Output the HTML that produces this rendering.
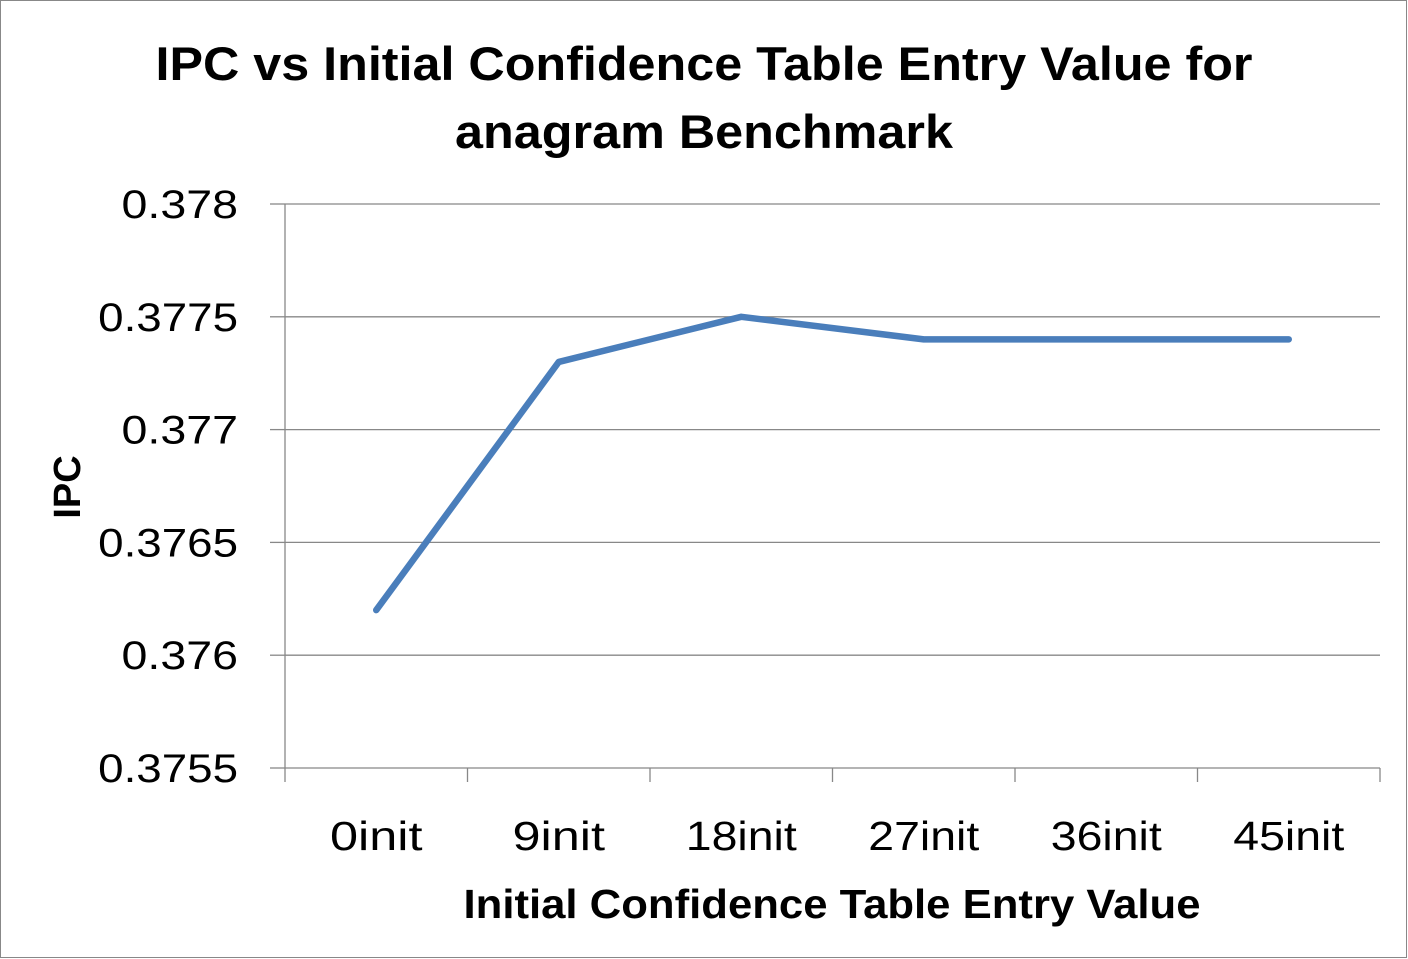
<!DOCTYPE html>
<html><head><meta charset="utf-8"><style>
html,body{margin:0;padding:0;background:#fff}
svg{display:block;font-family:"Liberation Sans",sans-serif}
</style></head><body>
<svg width="1408" height="959">
<rect x="0.5" y="0.5" width="1406" height="957" fill="#fff" stroke="#888"/>
<text x="704" y="80" text-anchor="middle" font-size="47" font-weight="bold" textLength="1097" lengthAdjust="spacingAndGlyphs">IPC vs Initial Confidence Table Entry Value for</text>
<text x="704" y="148" text-anchor="middle" font-size="47" font-weight="bold" textLength="498" lengthAdjust="spacingAndGlyphs">anagram Benchmark</text>
<g id="grid"></g><g id="axes"></g><g id="marks"></g>
<text transform="translate(80,487) rotate(-90)" text-anchor="middle" font-size="38" font-weight="bold">IPC</text>
<text x="832" y="918" text-anchor="middle" font-size="41" font-weight="bold" textLength="737" lengthAdjust="spacingAndGlyphs">Initial Confidence Table Entry Value</text>
</svg>
<script>
const categories=["0init","9init","18init","27init","36init","45init"];
const ipcValues=[0.3762,0.3773,0.3775,0.3774,0.3774,0.3774];
const yTicks=[0.3755,0.376,0.3765,0.377,0.3775,0.378];
const yTickLabels=["0.3755","0.376","0.3765","0.377","0.3775","0.378"];
const NS="http://www.w3.org/2000/svg";
const L=285,R=1380,T=204,B=768,yMin=0.3755,yMax=0.378;
const yS=v=>B-(v-yMin)/(yMax-yMin)*(B-T);
const bw=(R-L)/categories.length;
const xS=i=>L+bw*(i+0.5);
function mk(tag,attrs,parent){const e=document.createElementNS(NS,tag);for(const k in attrs)e.setAttribute(k,attrs[k]);document.getElementById(parent).appendChild(e);return e;}
yTicks.forEach((v,i)=>{
 const y=yS(v);
 const g=mk('line',{x1:L,x2:R,y1:y,y2:y,stroke:'#888','stroke-width':1.3},'grid');
 
 
 const t=mk('line',{x1:L-15,x2:L,y1:y,y2:y,stroke:'#888','stroke-width':1.3},'axes');
 
 
 const tx=mk('text',{x:238,y:y+14,'text-anchor':'end','font-size':40,textLength:yTickLabels[i].length*23.3,lengthAdjust:'spacingAndGlyphs'},'axes');
 tx.textContent=yTickLabels[i];
 
 
});
const ya=mk('line',{x1:L,x2:L,y1:T,y2:B,stroke:'#888','stroke-width':1.3},'axes');


for(let i=0;i<=categories.length;i++){
 const x=L+bw*i;
 const t=mk('line',{x1:x,x2:x,y1:B,y2:B+14,stroke:'#888','stroke-width':1.3},'axes');
 
 
}
categories.forEach((c,i)=>{
 const tx=mk('text',{x:xS(i),y:850,'text-anchor':'middle','font-size':41,textLength:c.length*18.5,lengthAdjust:'spacingAndGlyphs'},'axes');
 tx.textContent=c;
 
 
});
const pts=ipcValues.map((v,i)=>xS(i)+','+yS(v)).join(' ');
const pl=mk('polyline',{points:pts,fill:'none',stroke:'#4a7ebb','stroke-width':6.5,'stroke-linejoin':'round','stroke-linecap':'round'},'marks');


</script>
</body></html>
